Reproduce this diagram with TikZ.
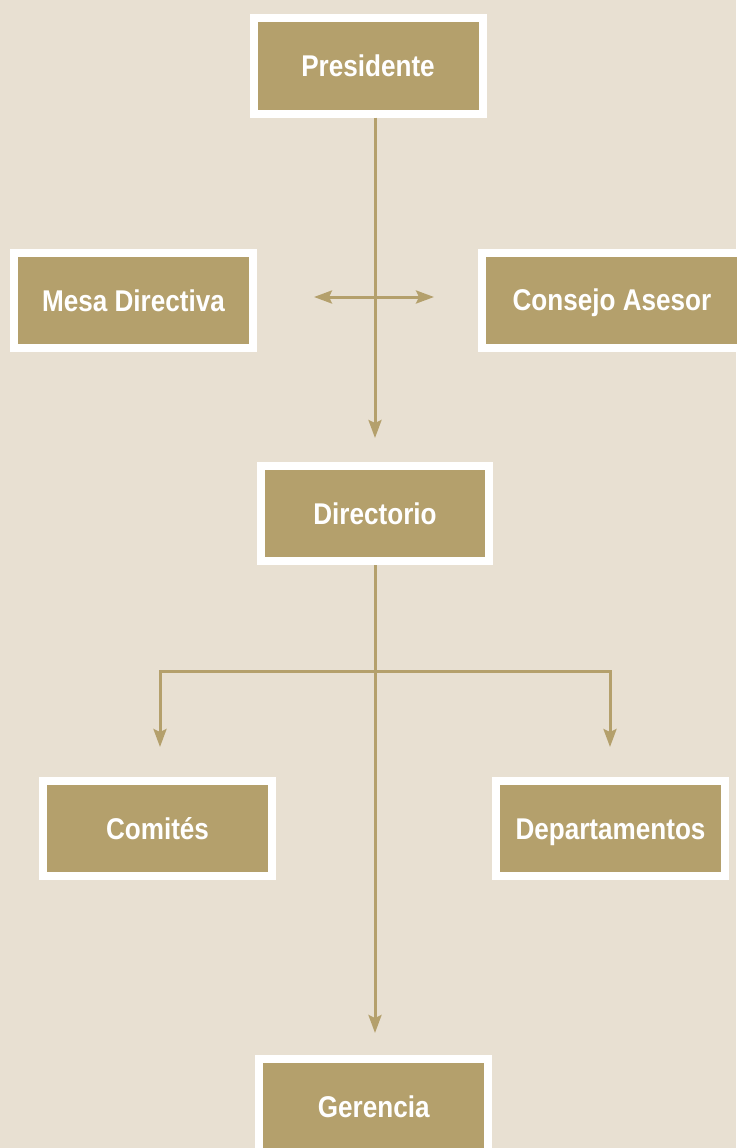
\documentclass[tikz,border=0pt]{standalone}
\usepackage{fontspec}
\usetikzlibrary{arrows.meta, positioning}
\newfontfamily\orgfont{Liberation Sans}[FakeStretch=0.87]
\definecolor{paper}{HTML}{E8E0D2}
\definecolor{gold}{HTML}{B4A06C}
\tikzset{
    unit/.style={
        rectangle, draw=white, line width=8pt, fill=gold,
        minimum width=229pt, minimum height=95pt, inner sep=0pt,
        text height=21.5pt, text depth=0pt,
        text=white, font=\orgfont\bfseries\fontsize{30}{36}\selectfont
    },
    wire/.style={draw=gold, line width=3pt, -{Stealth[length=18pt, width=13pt, inset=3pt]}},
    sidewire/.style={draw=gold, line width=3pt, {Stealth[length=18pt, width=13pt, inset=3pt]}-{Stealth[length=18pt, width=13pt, inset=3pt]}}
}
\begin{document}
\begin{tikzpicture}[x=1pt, y=-1pt]

% Background
\fill[paper] (0,0) rectangle (736,1148);
\useasboundingbox (0,0) rectangle (736,1148);

% Top
\node[unit] (pres) at (368,66) {Presidente};

% Advisory level
\node[unit, minimum width=239pt] (mesa) at (133.5,300.5) {Mesa Directiva};
\node[unit, minimum width=260pt] (cons) at (612,300) {Consejo Asesor};
\coordinate (mesain) at (314,297);
\coordinate (consin) at (434,297);

% Board
\node[unit, minimum width=228pt] (dir) at (375,513.5) {Directorio};
\coordinate (dirin) at (375,438);

\draw[wire] (pres.south -| dirin) -- (dirin);
\draw[sidewire] (mesain) -- (consin);

% Committees and departments
\node[unit] (com) at (157.5,828.5) {Comités};
\node[unit] (dep) at (610.5,828.5) {Departamentos};
\coordinate (split) at (375,671);
\coordinate (comin) at (160,747);
\coordinate (depin) at (610,747);

\draw[wire] (split) -| (comin);
\draw[wire] (split) -| (depin);

% Management
\node[unit] (ger) at (373.7,1106.5) {Gerencia};
\coordinate (gerin) at (375,1033);

\draw[wire] (dir.south) -- (gerin);

\end{tikzpicture}
\end{document}
